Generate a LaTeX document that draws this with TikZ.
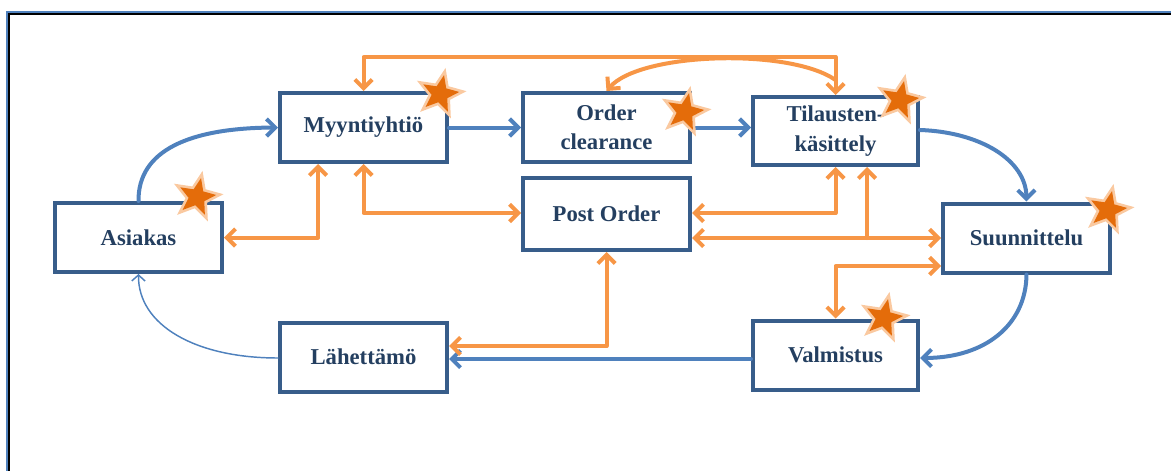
\documentclass[tikz,border=0pt]{standalone}
\usepackage{fontspec}
\setmainfont{Liberation Serif}
\usetikzlibrary{arrows.meta,shapes.geometric}

\definecolor{boxline}{HTML}{385D8A}
\definecolor{boxtext}{HTML}{243F60}
\definecolor{flowblue}{HTML}{4F81BD}
\definecolor{floworange}{HTML}{F79646}
\definecolor{starfill}{HTML}{E46C0A}
\definecolor{starglow}{HTML}{FAC9A0}
\definecolor{frameblue}{HTML}{4F81BD}

\tikzset{
  flowbarb/.tip={Straight Barb[length=6.5pt, width=13pt]},
  thinbarb/.tip={Straight Barb[length=4.5pt, width=10pt]},
  stage/.style={draw=boxline, line width=3pt, fill=white, text=boxtext,
    font=\fontsize{17}{22}\selectfont\bfseries, align=center,
    minimum width=125.25pt, minimum height=51.75pt, inner sep=0pt},
  bluearrow/.style={draw=flowblue, line width=3pt, line cap=round, line join=round, -{flowbarb}},
  thinarrow/.style={draw=flowblue, line width=1.1pt, line cap=round, -{thinbarb}},
  orangebase/.style={draw=floworange, line width=3pt, line cap=round, line join=round},
  orangeone/.style={orangebase, -{flowbarb}},
  orangetwo/.style={orangebase, {flowbarb}-{flowbarb}},
  badge/.style={star, star points=5, star point ratio=2.3, inner sep=0pt, rotate=-12},
}

\begin{document}
\begin{tikzpicture}[x=0.75pt, y=-0.75pt]
  \useasboundingbox (0,0) rectangle (1171,471);

  % page frame: top and left edges only
  \draw[frameblue, line width=1.3pt] (6,11.8) -- (1171,11.8);
  \draw[black, line width=1.7pt] (8,13.8) -- (1171,13.8);
  \draw[frameblue, line width=1.3pt] (7,11) -- (7,471);
  \draw[black, line width=1.7pt] (9,13) -- (9,471);

  % process stages
  \node[stage] (my) at (363.5,127.5) {Myyntiyhtiö};
  \node[stage] (oc) at (606.5,127.5) {Order\\clearance};
  \node[stage, minimum width=123.75pt, minimum height=51pt] (ti) at (835.5,131) {Tilausten-\\käsittely};
  \node[stage] (as) at (138.5,237.5) {Asiakas};
  \node[stage, minimum height=54pt] (po) at (606.5,214) {Post Order};
  \node[stage] (su) at (1026.5,238) {Suunnittelu};
  \node[stage] (la) at (363.5,357) {Lähettämö};
  \node[stage, minimum width=123.75pt] (va) at (835.5,355) {Valmistus};

  % main (blue) flow
  \draw[bluearrow] (as.north) .. controls (138,150) and (190,128) .. (my.west);
  \draw[bluearrow] (my.east) -- (oc.west);
  \draw[bluearrow] (oc.east) -- (ti.west |- oc.east);
  \draw[bluearrow] (ti.east |- 0,130) .. controls (980,132) and (1026,160) .. (su.north);
  \draw[bluearrow] (su.south) .. controls (1026,325) and (985,358) .. (va.east |- 0,358);
  \draw[bluearrow] (va.west |- 0,359) -- (la.east |- 0,359);
  \draw[thinarrow] (la.west |- 0,358) .. controls (195,358) and (138,325) .. (as.south);

  % information (orange) flow
  \draw[orangetwo] (my.north) -- (363.5,57) -| (ti.north);
  \draw[orangeone] (835.5,80) .. controls (790,48) and (640,52) .. (oc.north);
  \draw[orangetwo] (my.south -| 318,0) |- (as.east);
  \draw[orangetwo] (my.south) |- (po.west |- 0,213);
  \draw[orangetwo] (po.east |- 0,213) -| (ti.south);
  \draw[orangetwo] (po.east |- 0,238) -- (su.west |- 0,238);
  \draw[orangeone] (867,238) -- (ti.south -| 867,0);
  \draw[orangetwo] (su.west |- 0,266) -| (va.north);
  \draw[orangetwo] (po.south) |- (la.east |- 0,346);

  % stars
  \foreach \n/\p in {s1/{440,94}, s2/{197,197}, s3/{685,112}, s4/{900,100}, s5/{1108,210}, s6/{884,318}} {
    \node[badge, fill=starglow, minimum size=40pt] (\n g) at (\p) {};
    \node[badge, fill=starfill, minimum size=29pt] (\n) at (\p) {};
  }
\end{tikzpicture}
\end{document}
